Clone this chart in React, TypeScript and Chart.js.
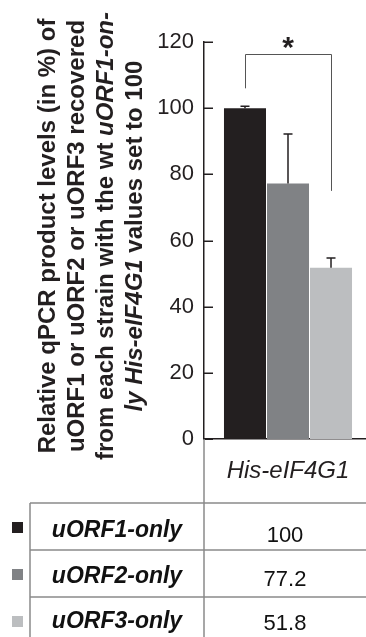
import React, { useEffect, useRef } from "react";
import { Chart, registerables } from "chart.js";
Chart.register(...registerables);

// ---- data ----
const categories = ["His-eIF4G1"];
const seriesLabels = ["uORF1-only", "uORF2-only", "uORF3-only"];
const uorf1Values = [100];
const uorf2Values = [77.2];
const uorf3Values = [51.8];
const uorf1Errors = [0.6];
const uorf2Errors = [15.0];
const uorf3Errors = [2.9];
const seriesColors = ["#231f20", "#808285", "#bcbec0"];
const yTickValues = [0, 20, 40, 60, 80, 100, 120];
const bracketTop = 116.5; // data units
const bracketLeftEnd = 106;
const bracketRightEnd = 75;
const significanceMark = "*";
const titleLine1: [string, boolean][] = [["Relative qPCR product levels (in %) of", false]];
const titleLine2: [string, boolean][] = [["uORF1 or uORF2 or uORF3 recovered", false]];
const titleLine3: [string, boolean][] = [["from each strain with the wt ", false], ["uORF1-on-", true]];
const titleLine4: [string, boolean][] = [["ly His-eIF4G1", true], [" values set to 100", false]];

const FONT = '"Liberation Sans", Arial, Helvetica, sans-serif';
const INK = "#231f20";
const TABLE_LINE = "#8a8a8a";

const valuesList = [uorf1Values, uorf2Values, uorf3Values];
const errorsList = [uorf1Errors, uorf2Errors, uorf3Errors];

const decorPlugin = {
  id: "decor",
  afterDraw(chart: any) {
    const ctx: CanvasRenderingContext2D = chart.ctx;
    const ys = chart.scales.y;
    const area = chart.chartArea;
    const W = chart.width;
    const H = chart.height;
    ctx.save();

    // inward y ticks
    ctx.strokeStyle = INK;
    ctx.lineWidth = 1.5;
    yTickValues.forEach((v) => {
      const py = Math.round(ys.getPixelForValue(v)) + 0.25;
      ctx.beginPath();
      ctx.moveTo(area.left, py);
      ctx.lineTo(area.left + 9, py);
      ctx.stroke();
    });

    // error bars
    ctx.strokeStyle = INK;
    ctx.lineWidth = 1.5;
    valuesList.forEach((vals, i) => {
      const meta = chart.getDatasetMeta(i);
      meta.data.forEach((bar: any, j: number) => {
        const top = ys.getPixelForValue(vals[j] + errorsList[i][j]);
        const base = ys.getPixelForValue(vals[j]);
        ctx.beginPath();
        ctx.moveTo(bar.x, base);
        ctx.lineTo(bar.x, top);
        ctx.moveTo(bar.x - 4.5, top);
        ctx.lineTo(bar.x + 4.5, top);
        ctx.stroke();
      });
    });

    // significance bracket
    const x1 = chart.getDatasetMeta(0).data[0].x;
    const x2 = chart.getDatasetMeta(2).data[0].x;
    const yTop = Math.round(ys.getPixelForValue(bracketTop)) + 0.5;
    ctx.strokeStyle = "#555555";
    ctx.lineWidth = 1;
    ctx.beginPath();
    ctx.moveTo(Math.round(x1) + 0.5, ys.getPixelForValue(bracketLeftEnd));
    ctx.lineTo(Math.round(x1) + 0.5, yTop);
    ctx.lineTo(Math.round(x2) + 0.5, yTop);
    ctx.lineTo(Math.round(x2) + 0.5, ys.getPixelForValue(bracketRightEnd));
    ctx.stroke();
    ctx.fillStyle = INK;
    ctx.font = `bold 30px ${FONT}`;
    ctx.textAlign = "center";
    ctx.textBaseline = "alphabetic";
    ctx.fillText(significanceMark, (x1 + x2) / 2, yTop + 2);

    // y-axis title (rotated, mixed styles)
    const lines = [titleLine1, titleLine2, titleLine3, titleLine4];
    const centerY = 236;
    lines.forEach((segs, i) => {
      const bx = 55 + i * 29;
      ctx.save();
      ctx.translate(bx, centerY);
      ctx.rotate(-Math.PI / 2);
      ctx.textAlign = "left";
      ctx.textBaseline = "alphabetic";
      let total = 0;
      segs.forEach(([t, it]) => {
        ctx.font = `${it ? "italic " : ""}bold 24px ${FONT}`;
        total += ctx.measureText(t).width;
      });
      let cx = -total / 2;
      segs.forEach(([t, it]) => {
        ctx.font = `${it ? "italic " : ""}bold 24px ${FONT}`;
        ctx.fillStyle = INK;
        ctx.fillText(t, cx, 0);
        cx += ctx.measureText(t).width;
      });
      ctx.restore();
    });

    // table
    const tableTop = 503;
    const rowH = 47;
    const colL = 30;
    const colM = area.left;
    ctx.strokeStyle = TABLE_LINE;
    ctx.lineWidth = 1.5;
    ctx.beginPath();
    ctx.moveTo(colM, area.bottom);
    ctx.lineTo(colM, H);
    ctx.moveTo(colL, tableTop);
    ctx.lineTo(colL, H);
    for (let r = 0; r < 3; r++) {
      const yy = tableTop + r * rowH;
      ctx.moveTo(colL, yy);
      ctx.lineTo(W, yy);
    }
    ctx.stroke();

    const labelBaselines = [537, 583, 628];
    const valueBaselines = [542, 586, 630];
    seriesLabels.forEach((lab, r) => {
      const rowTop = tableTop + r * rowH;
      ctx.fillStyle = seriesColors[r];
      ctx.fillRect(12, rowTop + 19, 11, 11);
      ctx.fillStyle = "#111";
      ctx.textAlign = "center";
      ctx.textBaseline = "alphabetic";
      ctx.font = `italic bold 23px ${FONT}`;
      ctx.fillText(lab, (colL + colM) / 2, labelBaselines[r]);
      ctx.font = `22px ${FONT}`;
      ctx.fillText(String(valuesList[r][0]), (colM + 366) / 2, valueBaselines[r]);
    });

    ctx.restore();
  },
};

export default function App() {
  const ref = useRef<HTMLCanvasElement | null>(null);
  useEffect(() => {
    document.body.style.margin = "0";
    const canvas = ref.current;
    if (!canvas) return;
    const chart = new Chart(canvas, {
      type: "bar",
      data: {
        labels: categories,
        datasets: seriesLabels.map((lab, i) => ({
          label: lab,
          data: valuesList[i],
          backgroundColor: seriesColors[i],
          borderWidth: 0,
          barPercentage: 0.977,
          categoryPercentage: 0.768,
        })),
      },
      options: {
        responsive: false,
        animation: false,
        devicePixelRatio: 1,
        layout: { padding: { top: 42, bottom: 134, left: 0, right: 0 } },
        plugins: { legend: { display: false }, tooltip: { enabled: false }, title: { display: false } },
        scales: {
          x: {
            grid: { display: false, drawTicks: false },
            border: { display: true, color: INK, width: 1.5 },
            ticks: {
              color: INK,
              padding: 18,
              maxRotation: 0,
              font: { family: FONT, size: 24, style: "italic" },
            },
            afterFit: (s: any) => {
              s.height = 64;
            },
          },
          y: {
            min: 0,
            max: 120,
            grid: { display: false, drawTicks: false },
            border: { display: true, color: INK, width: 1.5 },
            ticks: {
              stepSize: 20,
              color: INK,
              padding: 10,
              font: { family: FONT, size: 22 },
            },
            afterFit: (s: any) => {
              s.width = 204;
            },
          },
        },
      },
      plugins: [decorPlugin],
    } as any);
    return () => chart.destroy();
  }, []);
  return (
    <div style={{ width: 366, height: 637, overflow: "hidden", position: "relative", background: "#fff" }}>
      <canvas ref={ref} width={372} height={637} style={{ display: "block", width: 372, height: 637 }} />
    </div>
  );
}
